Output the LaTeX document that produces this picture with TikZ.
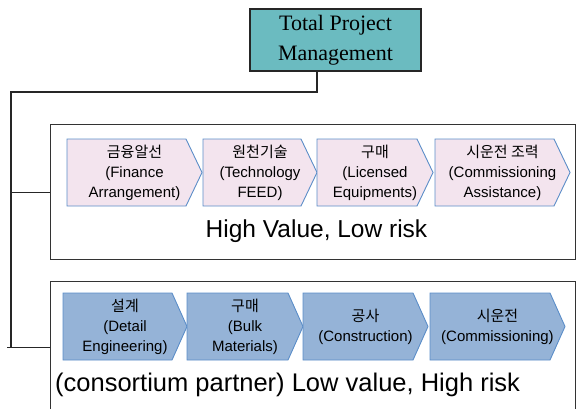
\documentclass[tikz,border=0pt]{standalone}
\usepackage{fontspec}
\setmainfont{Liberation Sans}
\newfontfamily\krfont{Noto Sans CJK KR}
\newfontfamily\boxfont{Liberation Serif}

\definecolor{tealbox}{RGB}{107,187,192}
\definecolor{hvfill}{RGB}{243,228,238}
\definecolor{lvfill}{RGB}{149,179,215}
\definecolor{stepline}{RGB}{91,141,200}

\tikzset{
  link/.style={line width=1.2pt, draw=black!85},
  groupbox/.style={draw=black!80, line width=1.2pt, anchor=north west,
    inner sep=0pt},
  tpmbox/.style={draw=black!85, fill=tealbox, line width=1.2pt,
    minimum width=171pt, minimum height=62pt, inner sep=0pt, align=center,
    font=\boxfont\fontsize{22}{30}\selectfont},
  hvstep/.style={draw=stepline, fill=hvfill, line width=0.9pt},
  lvstep/.style={draw=stepline, fill=lvfill, line width=0.9pt},
  steptext/.style={align=center, inner sep=0pt,
    font=\fontsize{15}{20}\selectfont},
  bigtext/.style={inner sep=0pt, font=\fontsize{24.5}{28}\selectfont}
}

\begin{document}
\begin{tikzpicture}[x=1pt,y=-1pt] %% y grows downwards (pixel like)
  \useasboundingbox (0,0) rectangle (576,408);
  \clip (0,0) rectangle (576,408);

  \node[tpmbox] (tpm) at (335.5,40) {Total Project\\Management};%
  \node[groupbox, minimum width=525pt, minimum height=135pt] (hvgroup)
  at (50,124) {};%
  \node[groupbox, minimum width=525pt, minimum height=132pt] (lvgroup)
  at (50,281) {};%

  %% tree lines
  \coordinate (trunk) at (11,92);
  \draw[link] ([xshift=-18.5pt]tpm.south) |- (trunk) -- (trunk |- lvgroup.west);
  \draw[link] (trunk |- hvgroup.west) -- (hvgroup.west);
  \draw[link] (lvgroup.west) -- ++(-43pt,0);

  %% high value steps
  \foreach \n/\xl/\xr/\kr/\en in {1/67/202/{금융알선}/{(Finance\\Arrangement)},
    2/203/317/{원천기술}/{(Technology\\FEED)},
    3/317/433/{구매}/{(Licensed\\Equipments)},
    4/435/570/{시운전 조력}/{(Commissioning\\Assistance)}} {
    \draw[hvstep] (\xl,139) -- (\xr-16,139) -- (\xr,172.5) -- (\xr-16,206)
    -- (\xl,206) -- cycle;
    \node[steptext] (hv\n) at ({(\xl+\xr)/2},172.5)
    {{\krfont\fontsize{15}{20}\selectfont\kr}\\\en};
  }
  \node[bigtext, anchor=base] (hvlabel) at (316.5,237) {High Value, Low risk};

  %% low value steps
  \foreach \n/\xl/\xr/\kr/\en in {1/63/187/{설계}/{(Detail\\Engineering)},
    2/187/303/{구매}/{(Bulk\\Materials)},
    3/303/428/{공사}/{(Construction)},
    4/430/565/{시운전}/{(Commissioning)}} {
    \draw[lvstep] (\xl,293) -- (\xr-15,293) -- (\xr,326.5) -- (\xr-15,360)
    -- (\xl,360) -- cycle;
    \node[steptext] (lv\n) at ({(\xl+\xr)/2},326.5)
    {{\krfont\fontsize{15}{20}\selectfont\kr}\\\en};
  }
  \node[bigtext, font=\fontsize{25.5}{28}\selectfont, anchor=base west]
  (lvlabel) at (55,391) {(consortium partner) Low value, High risk};
\end{tikzpicture}
\end{document}
